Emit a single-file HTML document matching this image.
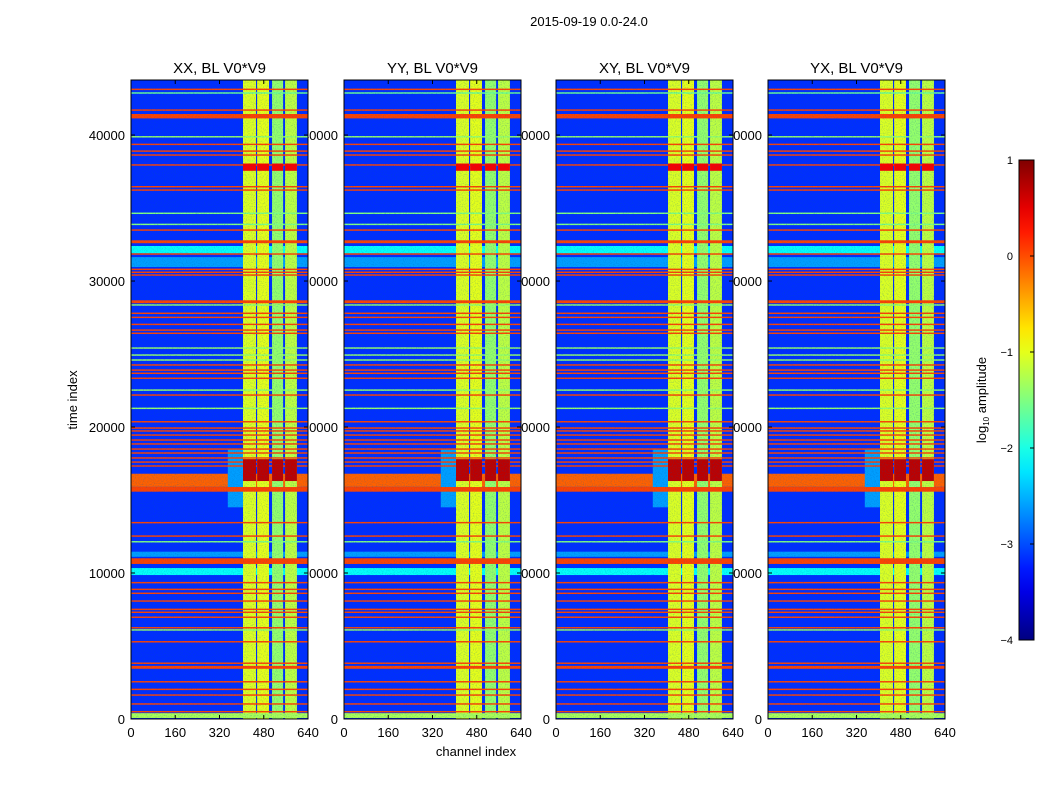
<!DOCTYPE html>
<html><head><meta charset="utf-8"><style>
body{margin:0;background:#fff;}
svg{display:block;font-family:"Liberation Sans",sans-serif;}
</style></head><body>
<svg id="fig" width="1050" height="800" viewBox="0 0 1050 800">
<defs>
<filter id="speck" x="0" y="0" width="1" height="1">
<feTurbulence type="fractalNoise" baseFrequency="0.9" numOctaves="1" seed="3" result="n"/>
<feColorMatrix in="n" type="matrix" values="0 0 0 0 0  0 0 0 0 0.1  0 0 0 0 0.4  0 0 0 1.6 -0.75"/>
</filter>
</defs>
<rect width="1050" height="800" fill="#fff"/>
<g id="labels"></g>
<g id="panels"></g>
<g id="cbar"></g>
</svg>
<script>
// ---- data ----
const panelNames = ["XX, BL V0*V9","YY, BL V0*V9","XY, BL V0*V9","YX, BL V0*V9"];
const xTicks = [0,160,320,480,640];
const yTicks = [0,10000,20000,30000,40000];
const cbTicks = [1,0,-1,-2,-3,-4];
const backgroundLevel = -3.15;
// channel bands [start, end, log10 amplitude]
const channelBands = [[405,452,-1.05],[456,499,-1.0],[510,550,-1.4],[557,600,-1.2]];
// broad background regions [tStart, tEnd, value]
const broadRegions = [[31900,32400,-2.1],[30960,31640,-2.6],[9860,10340,-2.1],[11110,11460,-2.6],[15900,16800,-0.1]];
// RFI lines (strong) [tStart, tEnd, value]
const rfiLines = [
[43080,43180,0.05],[41660,41760,0.05],[41140,41440,0.05],[39310,39410,0.05],[38850,38950,0.05],
[38580,38680,0.05],[37900,38000,0.05],[36410,36510,0.05],[36180,36280,0.05],[33440,33540,0.05],
[32590,32790,0.05],[31800,31900,0.05],[30750,30850,0.05],[30550,30650,0.05],[30360,30460,0.05],
[28480,28680,0.05],[27740,27840,0.05],[27460,27560,0.05],[26980,27080,0.05],[26590,26690,0.05],
[26370,26470,0.05],[24200,24300,0.05],[23850,23950,0.05],[23630,23730,0.05],[23290,23390,0.05],
[22140,22240,0.05],[20310,20410,0.05],[19880,19980,0.05],[19680,19780,0.05],[19400,19500,0.05],
[19060,19160,0.05],[18790,18890,0.05],[18440,18540,0.05],[18170,18270,0.05],[17830,17930,0.05],
[17550,17650,0.05],[17280,17380,0.05],[15570,15890,0.05],[13400,13500,0.05],[12480,12580,0.05],
[10620,11010,0.05],[9290,9390,0.05],[8830,8930,0.05],[8560,8660,0.05],[8030,8130,0.05],
[7460,7560,0.05],[7260,7360,0.05],[6920,7020,0.05],[6200,6300,0.05],[5240,5340,0.05],
[3770,3870,0.05],[3440,3640,0.05],[2500,2600,0.05],[1980,2080,0.05],[1590,1690,0.05],
[980,1080,0.05],[450,550,0.05]];
// weak lines [tStart, tEnd, value]
const weakLines = [
[42830,42930,-1.6],[39830,39930,-1.4],[34590,34690,-1.5],[33830,33930,-1.5],[28310,28410,-1.4],
[25360,25460,-1.4],[24880,24980,-1.4],[24540,24640,-1.4],[22480,22580,-1.4],[21230,21330,-1.4],
[12090,12190,-1.5],[6050,6150,-1.4],[70,400,-1.3]];
// strong regions inside bands [tStart, tEnd, value]
const hotRegions = [[16300,17800,0.7],[37550,38050,0.4]];

// ---- geometry ----
const panelLefts = [131,344,556,768];
const PW = 177, TOP = 80, BOT = 719, TMAX = 43770;
const NS = "http://www.w3.org/2000/svg";
function yS(t){return BOT - t/TMAX*(BOT-TOP);}
function xS(p,ch){return panelLefts[p] + ch/640*PW;}
function clamp(v){return Math.max(0,Math.min(1,v));}
function jet(v){const x=clamp((v+4)/5);
 const r=clamp(1.5-Math.abs(4*x-3)),g=clamp(1.5-Math.abs(4*x-2)),b=clamp(1.5-Math.abs(4*x-1));
 return `rgb(${Math.round(r*255)},${Math.round(g*255)},${Math.round(b*255)})`;}
function el(tag,attrs,parent){const e=document.createElementNS(NS,tag);for(const k in attrs)e.setAttribute(k,attrs[k]);parent.appendChild(e);return e;}
const labels=document.getElementById('labels'), panels=document.getElementById('panels'), cbar=document.getElementById('cbar');

let t=el('text',{x:589,y:26,'text-anchor':'middle','font-size':13},labels);t.textContent="2015-09-19 0.0-24.0";


t=el('text',{x:77,y:400,'text-anchor':'middle','font-size':13,transform:'rotate(-90 77 400)'},labels);t.textContent="time index";


t=el('text',{x:476,y:756,'text-anchor':'middle','font-size':13},labels);t.textContent="channel index";



for(let p=0;p<4;p++){
 for(const v of yTicks){const tt=el('text',{x:panelLefts[p]-6,y:yS(v)+5,'text-anchor':'end','font-size':13},labels);tt.textContent=v;
  
  }
 for(const v of xTicks){const tt=el('text',{x:xS(p,v),y:737,'text-anchor':'middle','font-size':13},labels);tt.textContent=v;
  
  }
 const g=el('g',{},panels);
 
 
 const x0=panelLefts[p];
 const cell=(c0,c1,t0,t1,v)=>{const r=el('rect',{x:xS(p,c0),y:yS(t1),width:xS(p,c1)-xS(p,c0),height:Math.max(1,yS(t0)-yS(t1)),fill:jet(v)},g);
  
  };
 cell(0,640,0,TMAX,backgroundLevel);
 for(const b of broadRegions) cell(0,640,b[0],b[1],b[2]);
 cell(350,405,14500,18500,-2.6);
 for(const b of channelBands) cell(b[0],b[1],0,TMAX,b[2]);
 for(const w of weakLines) cell(0,640,w[0],w[1],w[2]);
 for(const r of rfiLines) cell(0,640,r[0],r[1],r[2]);
 for(const h of hotRegions) for(const b of channelBands) cell(b[0],b[1],h[0],h[1],h[2]);
 el('rect',{x:x0,y:TOP,width:PW,height:BOT-TOP,fill:'#000',filter:'url(#speck)',opacity:0.5},g);
 el('rect',{x:x0,y:TOP,width:PW,height:BOT-TOP,fill:'none',stroke:'#000','stroke-width':1},g);
 for(const v of xTicks){const xx=xS(p,v);el('line',{x1:xx,y1:BOT,x2:xx,y2:BOT-4,stroke:'#000'},g);el('line',{x1:xx,y1:TOP,x2:xx,y2:TOP+4,stroke:'#000'},g);}
 for(const v of yTicks){const yy=yS(v);el('line',{x1:x0,y1:yy,x2:x0+4,y2:yy,stroke:'#000'},g);el('line',{x1:x0+PW,y1:yy,x2:x0+PW-4,y2:yy,stroke:'#000'},g);}
 const tt=el('text',{x:x0+PW/2,y:73,'text-anchor':'middle','font-size':15},panels);tt.textContent=panelNames[p];
 
 
}
// colorbar
const CBT=160,CBB=640,CBX=1019,CBW=15;
const grad=el('linearGradient',{id:'jetg',x1:0,y1:1,x2:0,y2:0},el('defs',{},cbar));
for(let i=0;i<=20;i++){el('stop',{offset:i/20,'stop-color':jet(-4+5*i/20)},grad);}
const cb=el('rect',{x:CBX,y:CBT,width:CBW,height:CBB-CBT,fill:'url(#jetg)',stroke:'#000'},cbar);


for(const v of cbTicks){const yy=CBB-(v+4)/5*(CBB-CBT);
 el('line',{x1:CBX+CBW-4,y1:yy,x2:CBX+CBW,y2:yy,stroke:'#000'},cbar);
 const tt=el('text',{x:1013,y:yy+4,'text-anchor':'end','font-size':11},cbar);tt.textContent=v<0?'\u2212'+(-v):v;
 
 }
const cl=el('text',{x:986,y:400,'text-anchor':'middle','font-size':13,transform:'rotate(-90 986 400)'},cbar);
cl.innerHTML='log<tspan font-size="8" dy="3">10</tspan><tspan dy="-3"> amplitude</tspan>';


</script>
</body></html>
